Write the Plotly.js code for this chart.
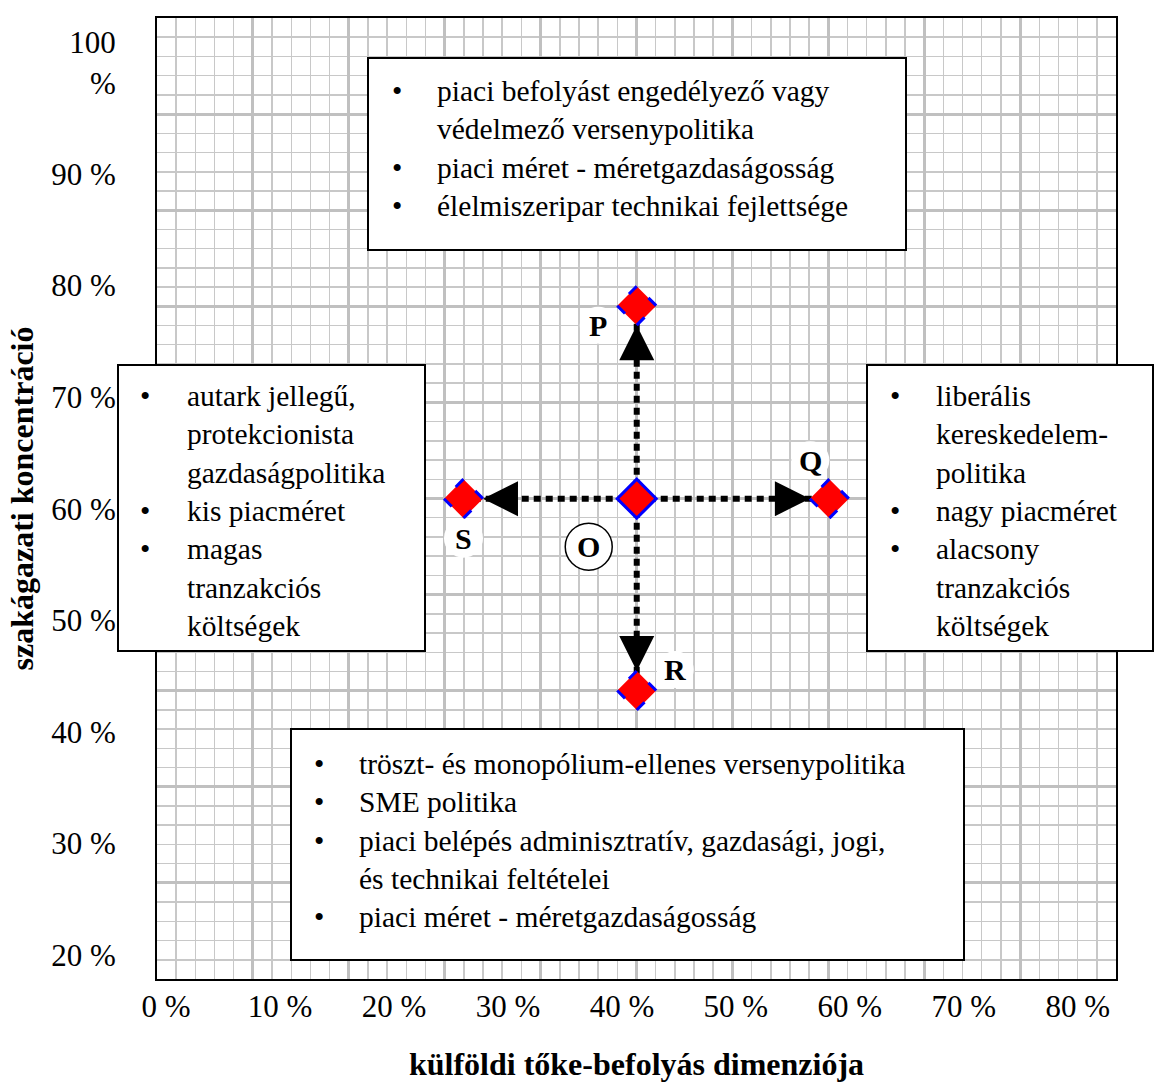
<!DOCTYPE html>
<html>
<head>
<meta charset="utf-8">
<script src="https://cdn.plot.ly/plotly-3.0.1.min.js"></script>
<style>html,body{margin:0;padding:0;background:#fff;}</style>
</head>
<body>
<div id="chart" style="width:1156px;height:1082px;"></div>
<script>
// ---------------- DATA ----------------
const pointNames = ['O', 'P', 'Q', 'R', 'S'];
// külföldi tőke-befolyás dimenziója (%)
const pointX = [41.3, 41.3, 58.2, 41.3, 26.1];
// szakágazati koncentráció (%)
const pointY = [60.9, 78.2, 60.9, 43.7, 60.9];

const xTickVals = [0, 10, 20, 30, 40, 50, 60, 70, 80];
const xTickText = ['0 %', '10 %', '20 %', '30 %', '40 %', '50 %', '60 %', '70 %', '80 %'];
const yTickVals = [20, 30, 40, 50, 60, 70, 80, 90, 100];
const yTickText = ['20 %', '30 %', '40 %', '50 %', '60 %', '70 %', '80 %', '90 %', '100<br>%'];

const xTitle = 'külföldi tőke-befolyás dimenziója';
const yTitle = 'szakágazati koncentráció';

const boxTopItems = [
  ['piaci befolyást engedélyező vagy', 'védelmező versenypolitika'],
  ['piaci méret - méretgazdaságosság'],
  ['élelmiszeripar technikai fejlettsége']
];
const boxLeftItems = [
  ['autark jellegű,', 'protekcionista', 'gazdaságpolitika'],
  ['kis piacméret'],
  ['magas', 'tranzakciós', 'költségek']
];
const boxRightItems = [
  ['liberális', 'kereskedelem-', 'politika'],
  ['nagy piacméret'],
  ['alacsony', 'tranzakciós', 'költségek']
];
const boxBottomItems = [
  ['tröszt- és monopólium-ellenes versenypolitika'],
  ['SME politika'],
  ['piaci belépés adminisztratív, gazdasági, jogi,', 'és technikai feltételei'],
  ['piaci méret - méretgazdaságosság']
];

// ---------------- LAYOUT GEOMETRY ----------------
const W = 1156, H = 1082;
const M = {l: 157, r: 40, t: 18, b: 103};
const PW = W - M.l - M.r, PH = H - M.t - M.b;
const px2x = p => (p - M.l) / PW;
const px2y = p => (H - M.b - p) / PH;
const FONT = 'Liberation Serif, Times New Roman, serif';

const origin = pointNames.indexOf('O');

// ---------------- TRACES ----------------
const traces = [];
// graph-paper grid axes (empty trace so the overlay subplot exists)
traces.push({x: [], y: [], xaxis: 'x2', yaxis: 'y2', type: 'scatter', mode: 'markers',
  showlegend: false, hoverinfo: 'skip'});

// dotted connectors from O to every other point
const lx = [], ly = [];
pointNames.forEach((n, i) => {
  if (i === origin) return;
  lx.push(pointX[origin], pointX[i], null);
  ly.push(pointY[origin], pointY[i], null);
});
traces.push({x: lx, y: ly, type: 'scatter', mode: 'lines', connectgaps: false,
  line: {color: '#000', width: 6, dash: '7px,5px'}, showlegend: false, hoverinfo: 'skip'});

// diamonds
traces.push({x: pointX, y: pointY, text: pointNames, type: 'scatter', mode: 'markers',
  marker: {symbol: 'diamond', size: 30, color: '#ff0000',
    line: {color: '#0000ff', width: pointNames.map((n, i) => i === origin ? 3 : 0)}},
  showlegend: false, hoverinfo: 'text'});

// ---------------- SHAPES & ANNOTATIONS ----------------
const shapes = [];
const annotations = [];
const HALF = 19.5; // half diagonal of diamond in px

// dashed outlines for P,Q,R,S
pointNames.forEach((n, i) => {
  if (i === origin) return;
  shapes.push({type: 'path', xref: 'x', yref: 'y', xsizemode: 'pixel', ysizemode: 'pixel',
    xanchor: pointX[i], yanchor: pointY[i],
    path: `M 0 ${HALF} L ${-HALF} 0 L 0 ${-HALF} L ${HALF} 0 Z`,
    line: {color: '#0000ff', width: 3, dash: '11px,16.6px'}, fillcolor: 'rgba(0,0,0,0)', layer: 'above'});
});

// arrow heads (tail offset in px, screen coords)
const arrowTail = {P: [0, 54.5], Q: [-54.5, 0], R: [0, -54.5], S: [54.5, 0]};
// label offsets (screen px) and circle radius
const labelPos = {O: [-48, 48, 23.5], P: [-38.5, 19.5, 18.5], Q: [-19, -38.5, 19], R: [38.5, -21, 18.5], S: [0, 39.5, 19.5]};

pointNames.forEach((n, i) => {
  if (arrowTail[n]) {
    annotations.push({x: pointX[i], y: pointY[i], xref: 'x', yref: 'y', text: '',
      showarrow: true, ax: arrowTail[n][0], ay: arrowTail[n][1], axref: 'pixel', ayref: 'pixel',
      arrowhead: 2, arrowsize: 1.4, arrowwidth: 5, arrowcolor: '#000', standoff: HALF,
      font: {size: 1}});
  }
  const lp = labelPos[n];
  shapes.push({type: 'circle', xref: 'x', yref: 'y', xsizemode: 'pixel', ysizemode: 'pixel',
    xanchor: pointX[i], yanchor: pointY[i],
    x0: lp[0] - lp[2], x1: lp[0] + lp[2], y0: -lp[1] - lp[2], y1: -lp[1] + lp[2],
    fillcolor: '#fff', line: {color: '#000', width: n === 'O' ? 1.5 : 0}, layer: 'above'});
  annotations.push({x: pointX[i], y: pointY[i], xref: 'x', yref: 'y', text: '<b>' + n + '</b>',
    showarrow: false, xshift: lp[0], yshift: -lp[1], xanchor: 'center', yanchor: 'middle',
    font: {family: FONT, size: 30, color: '#000'}});
});

// text boxes
function addBox(items, box, bulletX, textX, midY) {
  shapes.push({type: 'rect', xref: 'paper', yref: 'paper',
    x0: px2x(box[0]), x1: px2x(box[2]), y0: px2y(box[3]), y1: px2y(box[1]),
    fillcolor: '#fff', line: {color: '#000', width: 2}, layer: 'above'});
  const lines = [], bullets = [];
  items.forEach(it => it.forEach((t, j) => { lines.push(t); bullets.push(j === 0 ? '•' : '\u00A0'); }));
  annotations.push({xref: 'paper', yref: 'paper', x: px2x(textX), y: px2y(midY),
    xanchor: 'left', yanchor: 'middle', align: 'left', showarrow: false,
    text: lines.join('<br>'), font: {family: FONT, size: 29.5, color: '#000'}, borderpad: 0, borderwidth: 0});
  annotations.push({xref: 'paper', yref: 'paper', x: px2x(bulletX), y: px2y(midY),
    xanchor: 'center', yanchor: 'middle', align: 'center', showarrow: false,
    text: bullets.join('<br>'), font: {family: FONT, size: 29.5, color: '#000'}, borderpad: 0, borderwidth: 0});
}
addBox(boxTopItems, [368, 58, 906, 250], 397, 437, 148.5);
addBox(boxLeftItems, [118, 365, 425, 651], 145, 186.5, 510.5);
addBox(boxRightItems, [867, 365, 1153, 651], 895, 936, 510.5);
addBox(boxBottomItems, [291, 729, 964, 960], 318.5, 358.5, 840);

// ---------------- AXES ----------------
const xRange = [-0.79, 83.35];
const yRange = [17.84, 103.99];

const layout = {
  width: W, height: H,
  margin: M,
  paper_bgcolor: '#fff', plot_bgcolor: '#fff',
  showlegend: false,
  font: {family: FONT, color: '#000'},
  xaxis: {range: xRange, tickmode: 'array', tickvals: xTickVals, ticktext: xTickText,
    showgrid: false, zeroline: false, showline: true, mirror: true, linecolor: '#000', linewidth: 2,
    ticks: '', ticklabelstandoff: -1, tickfont: {family: FONT, size: 31, color: '#000'},
    title: {text: '<b>' + xTitle + '</b>', font: {family: FONT, size: 32, color: '#000'}, standoff: 39},
    fixedrange: true},
  yaxis: {range: yRange, tickmode: 'array', tickvals: yTickVals, ticktext: yTickText,
    showgrid: false, zeroline: false, showline: true, mirror: true, linecolor: '#000', linewidth: 2,
    ticks: '', ticklabelstandoff: 33, tickfont: {family: FONT, size: 31, color: '#000'},
    title: {text: '<b>' + yTitle + '</b>', font: {family: FONT, size: 32, color: '#000'}, standoff: 8},
    fixedrange: true},
  xaxis2: {overlaying: 'x', anchor: 'y2', range: [0, 50], showticklabels: false, ticks: '',
    dtick: 5, tick0: 0, showgrid: true, gridcolor: '#c0c0c0', gridwidth: 3, zeroline: false,
    showline: false, minor: {dtick: 1, showgrid: true, gridcolor: '#c8c8c8', gridwidth: 1.5, ticks: ''},
    fixedrange: true},
  yaxis2: {overlaying: 'y', anchor: 'x2', side: 'right', range: [0, 50], showticklabels: false, ticks: '',
    dtick: 5, tick0: 0, showgrid: true, gridcolor: '#c0c0c0', gridwidth: 3, zeroline: false,
    showline: false, minor: {dtick: 1, showgrid: true, gridcolor: '#c8c8c8', gridwidth: 1.5, ticks: ''},
    fixedrange: true},
  shapes: shapes,
  annotations: annotations
};

Plotly.newPlot('chart', traces, layout, {displayModeBar: false, staticPlot: true});
</script>
</body>
</html>
